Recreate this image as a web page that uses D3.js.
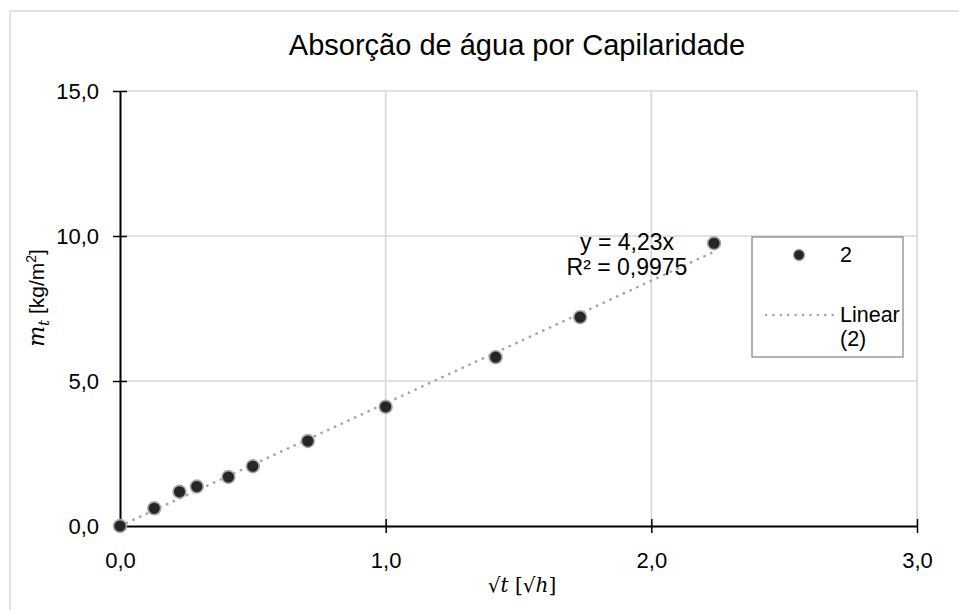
<!DOCTYPE html>
<html>
<head>
<meta charset="utf-8">
<script src="https://cdn.jsdelivr.net/npm/d3@7"></script>
<style>
  body { margin: 0; background: #fff; }
  svg { display: block; }
</style>
</head>
<body>
<svg id="chart" width="959" height="610"></svg>
<script>
// dados
var sqrtT = [0, 0.129, 0.224, 0.289, 0.408, 0.5, 0.707, 1.0, 1.414, 1.732, 2.236];
var massa = [0, 0.61, 1.18, 1.36, 1.69, 2.06, 2.93, 4.11, 5.82, 7.20, 9.75];
var xTicks = [0, 1, 2, 3];
var yTicks = [0, 5, 10, 15];
var slope = 4.23;
var r2Text = "R² = 0,9975";
var eqText = "y = 4,23x";
var titleText = "Absorção de água por Capilaridade";
var seriesName = "2";

var svg = d3.select("#chart");
var sans = "'Liberation Sans', Arial, sans-serif";
var serif = "'DejaVu Serif', 'Liberation Serif', serif";
var fmt = function(d) { return d3.format(".1f")(d).replace(".", ","); };

// borda externa
svg.append("rect")
	.attr("x", 10).attr("y", 11)
	.attr("width", 980).attr("height", 640)
	.attr("fill", "#fff")
	.attr("stroke", "#d9d9d9")
	.attr("stroke-width", 1.5);

var x = d3.scaleLinear().domain([0, 3]).range([120, 917]);
var y = d3.scaleLinear().domain([0, 15]).range([526, 91]);

// grade
svg.append("g").selectAll("line")
	.data(xTicks.slice(1))
	.enter().append("line")
	.attr("x1", function(d) { return x(d); })
	.attr("x2", function(d) { return x(d); })
	.attr("y1", y(0)).attr("y2", y(15))
	.attr("stroke", "#d9d9d9").attr("stroke-width", 1.7);

svg.append("g").selectAll("line")
	.data(yTicks.slice(1))
	.enter().append("line")
	.attr("x1", x(0)).attr("x2", x(3))
	.attr("y1", function(d) { return y(d); })
	.attr("y2", function(d) { return y(d); })
	.attr("stroke", "#d9d9d9").attr("stroke-width", 1.7);

// eixos (ticks cruzando o eixo)
var xAxis = svg.append("g")
	.attr("transform", "translate(0," + y(0) + ")")
	.call(d3.axisBottom(x).tickValues(xTicks).tickFormat(fmt).tickSize(7).tickSizeOuter(0).tickPadding(19));
xAxis.selectAll(".tick line").attr("y1", -7).attr("stroke", "#000").attr("stroke-width", 1.5);
xAxis.select(".domain").attr("stroke", "#000").attr("stroke-width", 2);
xAxis.selectAll("text").attr("font-family", sans).attr("font-size", 22).attr("fill", "#000");

var yAxis = svg.append("g")
	.attr("transform", "translate(" + x(0) + ",0)")
	.call(d3.axisLeft(y).tickValues(yTicks).tickFormat(fmt).tickSize(7).tickSizeOuter(0).tickPadding(14));
yAxis.selectAll(".tick line").attr("x1", 7).attr("stroke", "#000").attr("stroke-width", 1.5);
yAxis.select(".domain").attr("stroke", "#000").attr("stroke-width", 2);
yAxis.selectAll("text").attr("font-family", sans).attr("font-size", 22).attr("fill", "#000");

// linha de tendência
var xMax = d3.max(sqrtT);
svg.append("line")
	.attr("x1", x(0)).attr("y1", y(0))
	.attr("x2", x(xMax)).attr("y2", y(slope * xMax))
	.attr("stroke", "#a6a6a6")
	.attr("stroke-width", 2.7)
	.attr("stroke-linecap", "round")
	.attr("stroke-dasharray", "0.1 7.3");

// pontos
svg.append("g").selectAll("circle")
	.data(sqrtT)
	.enter().append("circle")
	.attr("cx", function(d) { return x(d); })
	.attr("cy", function(d, i) { return y(massa[i]); })
	.attr("r", 6.4)
	.attr("fill", "#262626")
	.attr("stroke", "#a6a6a6")
	.attr("stroke-width", 1.6);

// equação
svg.append("text")
	.attr("x", 627).attr("y", 250)
	.attr("text-anchor", "middle")
	.attr("font-family", sans).attr("font-size", 23)
	.text(eqText);
svg.append("text")
	.attr("x", 627).attr("y", 275)
	.attr("text-anchor", "middle")
	.attr("font-family", sans).attr("font-size", 23)
	.text(r2Text);

// título
svg.append("text")
	.attr("x", 517).attr("y", 55)
	.attr("text-anchor", "middle")
	.attr("font-family", sans).attr("font-size", 29)
	.attr("fill", "#000")
	.text(titleText);

// título eixo x
var xt = svg.append("text")
	.attr("x", 522).attr("y", 592)
	.attr("text-anchor", "middle")
	.attr("font-family", serif).attr("font-size", 20);
xt.append("tspan").text("√");
xt.append("tspan").attr("font-style", "italic").text("t");
xt.append("tspan").text(" [√");
xt.append("tspan").attr("font-style", "italic").text("h");
xt.append("tspan").text("]");

// título eixo y
var yt = svg.append("text")
	.attr("transform", "translate(44,298) rotate(-90)")
	.attr("text-anchor", "middle")
	.attr("font-family", sans).attr("font-size", 21);
yt.append("tspan").attr("font-family", serif).attr("font-style", "italic").attr("font-size", 22).text("m");
yt.append("tspan").attr("font-family", serif).attr("font-style", "italic").attr("font-size", 15).attr("dy", 5).text("t");
yt.append("tspan").attr("dy", -5).text(" [kg/m");
yt.append("tspan").attr("font-size", 14).attr("dy", -8).text("2");
yt.append("tspan").attr("dy", 8).text("]");

// legenda
var leg = svg.append("g");
leg.append("rect")
	.attr("x", 752).attr("y", 237)
	.attr("width", 151).attr("height", 120)
	.attr("fill", "#fff")
	.attr("stroke", "#808080").attr("stroke-width", 1.2);
leg.append("circle")
	.attr("cx", 799).attr("cy", 255).attr("r", 5.5)
	.attr("fill", "#262626").attr("stroke", "#a6a6a6").attr("stroke-width", 1.3);
leg.append("text")
	.attr("x", 840).attr("y", 262)
	.attr("font-family", sans).attr("font-size", 21.5)
	.text(seriesName);
leg.append("line")
	.attr("x1", 766).attr("x2", 834).attr("y1", 315).attr("y2", 315)
	.attr("stroke", "#a6a6a6").attr("stroke-width", 2.5)
	.attr("stroke-linecap", "round").attr("stroke-dasharray", "0.1 7.3");
leg.append("text")
	.attr("x", 840).attr("y", 322)
	.attr("font-family", sans).attr("font-size", 21.5)
	.text("Linear");
leg.append("text")
	.attr("x", 840).attr("y", 346)
	.attr("font-family", sans).attr("font-size", 21.5)
	.text("(" + seriesName + ")");
</script>
</body>
</html>
